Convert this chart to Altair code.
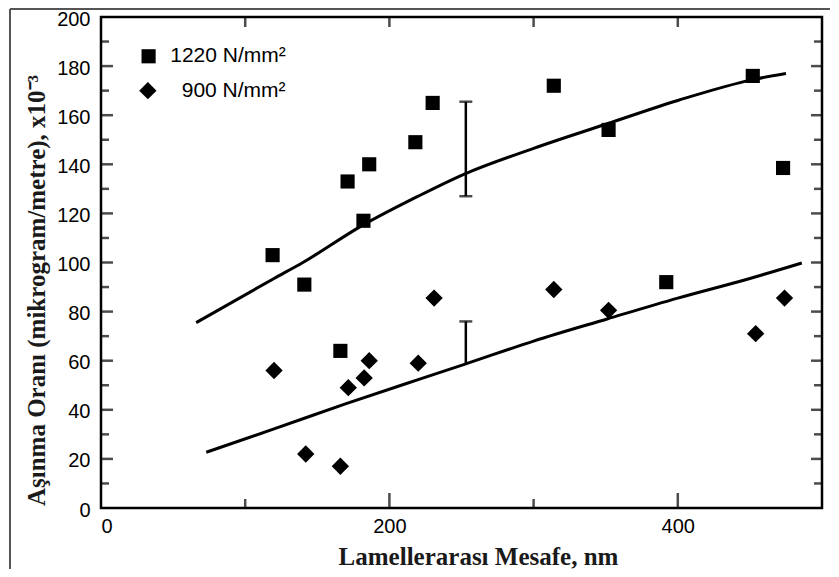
import altair as alt
import pandas as pd

# ---- data ----
x_1220 = [119, 141, 166, 171, 182, 186, 218, 230, 314, 352, 392, 452, 473]
y_1220 = [103, 91, 64, 133, 117, 140, 149, 165, 172, 154, 92, 176, 138.5]
x_900 = [120, 142, 166, 171.5, 182.5, 186, 220, 231, 314, 352, 454, 474]
y_900 = [56, 22, 17, 49, 53, 60, 59, 85.5, 89, 80.5, 71, 85.5]

fit_1220_x = [66, 120, 140, 181, 220, 252, 300, 351, 400, 452, 475]
fit_1220_y = [75.5, 93.5, 100, 115, 127, 136, 146.5, 156.5, 166, 174.5, 177]
fit_900_x = [73, 120, 170, 221, 252, 300, 351, 400, 450, 486]
fit_900_y = [22.7, 32.2, 42.5, 52.5, 58.5, 68, 77, 85.5, 93.5, 99.8]

err_x = [253, 253]
err_lo = [127, 59]
err_hi = [165.5, 76]
cap_x = [253, 253, 253]
cap_y = [127, 165.5, 76]

legend_labels = ["1220 N/mm²", "900 N/mm²"]
legend_sym_x = [33, 32.5]
legend_sym_y = [184, 170]
legend_txt_x = [48, 56]

y_tick_vals = list(range(10, 200, 10))
x_tick_vals = [100, 200, 300, 400]

W, H = 721, 491
xs = alt.Scale(domain=[0, 500], nice=False, zero=False)
ys = alt.Scale(domain=[0, 200], nice=False, zero=False)

X_TITLE = "Lamellerarası Mesafe, nm"
Y_TITLE = "Aşınma Oranı (mikrogram/metre), x10⁻³"


def X(field="x"):
    return alt.X(f"{field}:Q", scale=xs)


def Y(field="y"):
    return alt.Y(f"{field}:Q", scale=ys)


fit_df = pd.concat([
    pd.DataFrame({"x": fit_1220_x, "y": fit_1220_y, "s": "1220"}),
    pd.DataFrame({"x": fit_900_x, "y": fit_900_y, "s": "900"}),
])

lines = alt.Chart(fit_df).mark_line(color="black", strokeWidth=3, interpolate="monotone").encode(
    x=alt.X("x:Q", scale=xs, title=X_TITLE,
            axis=alt.Axis(values=[0, 200, 400], ticks=False, domain=False, grid=False,
                          labelPadding=8, titleX=377, titleY=48, titleBaseline="middle")),
    y=alt.Y("y:Q", scale=ys, title=Y_TITLE,
            axis=alt.Axis(values=list(range(0, 201, 20)), ticks=False, domain=False, grid=False,
                          labelPadding=11, labelOffset=2, titleX=-65, titleY=273,
                          titleBaseline="middle", titleAngle=-90, titleAlign="center")),
    detail="s:N",
)

err_df = pd.DataFrame({"x": err_x, "y": err_lo, "y2": err_hi})
err = alt.Chart(err_df).mark_rule(color="black", strokeWidth=2.5).encode(
    x=X(), y=Y(), y2="y2:Q")
cap_df = pd.DataFrame({"x": cap_x, "y": cap_y})
caps = alt.Chart(cap_df).mark_tick(color="black", orient="horizontal", thickness=2.5, size=13).encode(
    x=X(), y=Y())

sq = alt.Chart(pd.DataFrame({"x": x_1220, "y": y_1220})).mark_point(
    shape="square", filled=True, color="black", opacity=1, size=200).encode(x=X(), y=Y())
dm = alt.Chart(pd.DataFrame({"x": x_900, "y": y_900})).mark_point(
    shape="diamond", filled=True, color="black", opacity=1, size=300).encode(x=X(), y=Y())

leg_sq = alt.Chart(pd.DataFrame({"x": legend_sym_x[:1], "y": legend_sym_y[:1]})).mark_point(
    shape="square", filled=True, color="black", opacity=1, size=200).encode(x=X(), y=Y())
leg_dm = alt.Chart(pd.DataFrame({"x": legend_sym_x[1:], "y": legend_sym_y[1:]})).mark_point(
    shape="diamond", filled=True, color="black", opacity=1, size=300).encode(x=X(), y=Y())
leg_txt = alt.Chart(pd.DataFrame({"x": legend_txt_x, "y": legend_sym_y, "t": legend_labels})).mark_text(
    align="left", baseline="middle", font="Liberation Sans", fontSize=21, color="black").encode(
    x=X(), y=Y(), text="t:N")


def yticks(vals, length, side):
    pos = length / 2 if side == "left" else W - length / 2
    return alt.Chart(pd.DataFrame({"y": vals})).mark_tick(
        orient="horizontal", thickness=2.5, size=length, color="black").encode(
        y=Y(), x=alt.value(pos))


def xticks(vals, length, side):
    pos = H - length / 2 if side == "bottom" else length / 2
    return alt.Chart(pd.DataFrame({"x": vals})).mark_tick(
        orient="vertical", thickness=2.5, size=length, color="black").encode(
        x=X(), y=alt.value(pos))


major_y = [v for v in y_tick_vals if v % 20 == 0]
minor_y = [v for v in y_tick_vals if v % 20 != 0]
major_x = [v for v in x_tick_vals if v % 200 == 0]
minor_x = [v for v in x_tick_vals if v % 200 != 0]

tick_layers = [
    yticks(major_y, 12, "left"), yticks(minor_y, 8, "left"),
    yticks(major_y, 11, "right"), yticks(minor_y, 8, "right"),
    xticks(major_x, 15, "bottom"), xticks(minor_x, 9, "bottom"),
    xticks(x_tick_vals, 10, "top"),
]

frame_left = alt.Chart(pd.DataFrame({"a": [0]})).mark_rule(color="#555555", strokeWidth=2).encode(
    x=alt.value(-91), y=alt.value(-8), y2=alt.value(H + 62))
frame_top = alt.Chart(pd.DataFrame({"a": [0]})).mark_rule(color="#555555", strokeWidth=2).encode(
    x=alt.value(-91), x2=alt.value(W + 9), y=alt.value(-8))

chart = alt.layer(
    lines, err, caps, *tick_layers, sq, dm, leg_sq, leg_dm, leg_txt, frame_left, frame_top
).properties(
    width=W, height=H,
    autosize=alt.AutoSizeParams(type="none"),
    padding={"left": 93, "top": 9, "right": 8, "bottom": 61},
).configure(
    background="white"
).configure_view(
    stroke="black", strokeWidth=2.5
).configure_axis(
    labelFont="Liberation Sans", labelFontSize=20, labelColor="black",
    titleFont="Liberation Serif", titleFontSize=25, titleFontWeight="bold", titleColor="#1a1a1a",
)

chart.save("out.html", embed_options={"renderer": "svg", "actions": False})
